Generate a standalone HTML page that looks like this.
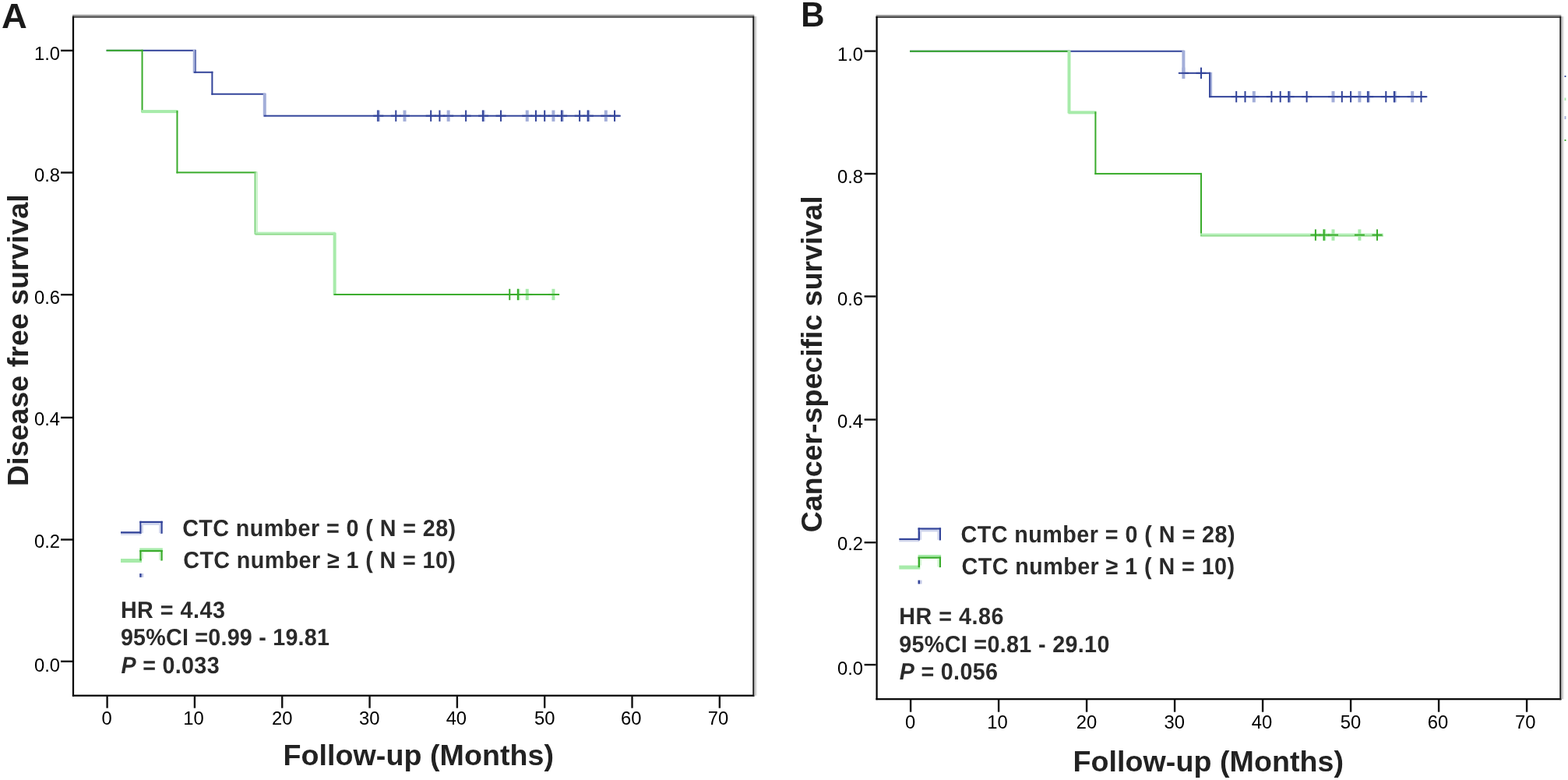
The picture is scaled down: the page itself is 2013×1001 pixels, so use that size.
<!DOCTYPE html>
<html><head><meta charset="utf-8"><title>Kaplan-Meier curves</title><style>
html,body{margin:0;padding:0;background:#fff;}
body{width:2013px;height:1001px;overflow:hidden;}
svg{display:block;}
text{font-family:'Liberation Sans', Arial, Helvetica, sans-serif;}
.tl{font-size:23.8px;fill:#000;}
.lg{font-size:28.7px;font-weight:bold;fill:#2a2a2a;text-rendering:geometricPrecision;}
.ax{font-size:37.6px;font-weight:bold;fill:#222;}
.pl{font-size:44.5px;font-weight:bold;fill:#1a1a1a;}
</style></head>
<body><svg width="2013" height="1001" viewBox="0 0 2013 1001">
<rect width="2013" height="1001" fill="#fff"/>
<rect x="93.00" y="18.80" width="875.30" height="2.00" fill="#9a9a9a"/>
<rect x="93.00" y="20.80" width="875.30" height="2.00" fill="#4a4a4a"/>
<rect x="92.90" y="20.80" width="2.20" height="872.90" fill="#000"/>
<rect x="92.90" y="891.60" width="875.50" height="2.20" fill="#000"/>
<rect x="966.30" y="20.80" width="2.00" height="872.90" fill="#1c1c1c"/>
<rect x="968.30" y="21.00" width="1.50" height="871.70" fill="#a9a9a9"/>
<rect x="969.80" y="21.00" width="1.80" height="871.70" fill="#dddddd"/>
<rect x="78.00" y="63.70" width="15.00" height="2.40" fill="#111"/>
<text x="77.00" y="76.90" class="tl" text-anchor="end">1.0</text>
<rect x="78.00" y="220.30" width="15.00" height="2.40" fill="#111"/>
<text x="77.00" y="232.50" class="tl" text-anchor="end">0.8</text>
<rect x="78.00" y="377.00" width="15.00" height="2.40" fill="#111"/>
<text x="77.00" y="389.60" class="tl" text-anchor="end">0.6</text>
<rect x="78.00" y="534.70" width="15.00" height="2.40" fill="#111"/>
<text x="77.00" y="546.20" class="tl" text-anchor="end">0.4</text>
<rect x="78.00" y="691.30" width="15.00" height="2.40" fill="#111"/>
<text x="77.00" y="702.50" class="tl" text-anchor="end">0.2</text>
<rect x="78.00" y="847.60" width="15.00" height="2.40" fill="#111"/>
<text x="77.00" y="861.50" class="tl" text-anchor="end">0.0</text>
<rect x="136.40" y="893.20" width="2.40" height="15.50" fill="#111"/>
<text x="137.10" y="930.40" class="tl" text-anchor="middle">0</text>
<rect x="248.72" y="893.20" width="2.40" height="15.50" fill="#111"/>
<text x="248.42" y="930.40" class="tl" text-anchor="middle">10</text>
<rect x="361.04" y="893.20" width="2.40" height="15.50" fill="#111"/>
<text x="362.24" y="930.40" class="tl" text-anchor="middle">20</text>
<rect x="473.36" y="893.20" width="2.40" height="15.50" fill="#111"/>
<text x="474.16" y="930.40" class="tl" text-anchor="middle">30</text>
<rect x="585.68" y="893.20" width="2.40" height="15.50" fill="#111"/>
<text x="585.88" y="930.40" class="tl" text-anchor="middle">40</text>
<rect x="698.00" y="893.20" width="2.40" height="15.50" fill="#111"/>
<text x="699.20" y="930.40" class="tl" text-anchor="middle">50</text>
<rect x="810.32" y="893.20" width="2.40" height="15.50" fill="#111"/>
<text x="810.32" y="930.40" class="tl" text-anchor="middle">60</text>
<rect x="922.64" y="893.20" width="2.40" height="15.50" fill="#111"/>
<text x="922.04" y="930.40" class="tl" text-anchor="middle">70</text>
<rect x="136.60" y="63.80" width="114.32" height="2.00" fill="#33449a"/>
<rect x="247.72" y="63.80" width="3.20" height="29.96" fill="#a3aed9"/>
<rect x="250.52" y="63.80" width="1.20" height="29.96" fill="#33449a"/>
<rect x="248.92" y="91.76" width="24.46" height="2.00" fill="#33449a"/>
<rect x="271.38" y="91.76" width="2.00" height="29.96" fill="#33449a"/>
<rect x="271.38" y="119.72" width="69.39" height="2.00" fill="#33449a"/>
<rect x="337.78" y="119.72" width="4.00" height="29.96" fill="#a3aed9"/>
<rect x="338.78" y="147.68" width="458.02" height="2.00" fill="#33449a"/>
<rect x="136.60" y="63.80" width="46.93" height="2.00" fill="#3aac2c"/>
<rect x="181.53" y="63.80" width="2.00" height="80.29" fill="#3aac2c"/>
<rect x="181.53" y="141.09" width="46.93" height="4.00" fill="#a7ebaa"/>
<rect x="226.46" y="142.09" width="2.00" height="80.29" fill="#3aac2c"/>
<rect x="226.46" y="220.38" width="103.09" height="2.00" fill="#3aac2c"/>
<rect x="326.54" y="220.38" width="2.00" height="80.29" fill="#7ad27a"/>
<rect x="328.54" y="220.38" width="2.50" height="80.29" fill="#cdf3cd"/>
<rect x="327.54" y="297.67" width="103.09" height="2.00" fill="#b3f0b8"/>
<rect x="327.54" y="299.67" width="103.09" height="2.00" fill="#8fdb8c"/>
<rect x="427.63" y="298.67" width="4.00" height="80.29" fill="#a7ebaa"/>
<rect x="428.63" y="376.96" width="289.54" height="2.00" fill="#3aac2c"/>
<rect x="483.79" y="141.48" width="4.00" height="14.40" fill="#a3aed9"/>
<rect x="484.29" y="141.48" width="2.00" height="14.40" fill="#33449a"/>
<rect x="479.29" y="147.68" width="13.00" height="2.00" fill="#33449a"/>
<rect x="507.26" y="141.48" width="2.00" height="14.40" fill="#33449a"/>
<rect x="501.76" y="147.68" width="13.00" height="2.00" fill="#33449a"/>
<rect x="517.49" y="141.48" width="4.00" height="14.40" fill="#a3aed9"/>
<rect x="512.99" y="147.68" width="13.00" height="2.00" fill="#33449a"/>
<rect x="552.18" y="141.48" width="2.00" height="14.40" fill="#33449a"/>
<rect x="546.68" y="147.68" width="13.00" height="2.00" fill="#33449a"/>
<rect x="563.42" y="141.48" width="2.00" height="14.40" fill="#33449a"/>
<rect x="557.92" y="147.68" width="13.00" height="2.00" fill="#33449a"/>
<rect x="573.65" y="141.48" width="4.00" height="14.40" fill="#a3aed9"/>
<rect x="569.15" y="147.68" width="13.00" height="2.00" fill="#33449a"/>
<rect x="597.11" y="141.48" width="2.00" height="14.40" fill="#33449a"/>
<rect x="591.61" y="147.68" width="13.00" height="2.00" fill="#33449a"/>
<rect x="618.58" y="141.48" width="4.00" height="14.40" fill="#a3aed9"/>
<rect x="619.08" y="141.48" width="2.00" height="14.40" fill="#33449a"/>
<rect x="614.08" y="147.68" width="13.00" height="2.00" fill="#33449a"/>
<rect x="642.04" y="141.48" width="2.00" height="14.40" fill="#33449a"/>
<rect x="636.54" y="147.68" width="13.00" height="2.00" fill="#33449a"/>
<rect x="674.74" y="141.48" width="4.00" height="14.40" fill="#a3aed9"/>
<rect x="670.24" y="147.68" width="13.00" height="2.00" fill="#33449a"/>
<rect x="686.97" y="141.48" width="2.00" height="14.40" fill="#33449a"/>
<rect x="681.47" y="147.68" width="13.00" height="2.00" fill="#33449a"/>
<rect x="698.20" y="141.48" width="2.00" height="14.40" fill="#33449a"/>
<rect x="692.70" y="147.68" width="13.00" height="2.00" fill="#33449a"/>
<rect x="708.43" y="141.48" width="4.00" height="14.40" fill="#a3aed9"/>
<rect x="703.93" y="147.68" width="13.00" height="2.00" fill="#33449a"/>
<rect x="719.66" y="141.48" width="4.00" height="14.40" fill="#a3aed9"/>
<rect x="720.16" y="141.48" width="2.00" height="14.40" fill="#33449a"/>
<rect x="715.16" y="147.68" width="13.00" height="2.00" fill="#33449a"/>
<rect x="743.13" y="141.48" width="2.00" height="14.40" fill="#33449a"/>
<rect x="737.63" y="147.68" width="13.00" height="2.00" fill="#33449a"/>
<rect x="753.36" y="141.48" width="4.00" height="14.40" fill="#a3aed9"/>
<rect x="753.86" y="141.48" width="2.00" height="14.40" fill="#33449a"/>
<rect x="748.86" y="147.68" width="13.00" height="2.00" fill="#33449a"/>
<rect x="775.82" y="141.48" width="4.00" height="14.40" fill="#a3aed9"/>
<rect x="771.32" y="147.68" width="13.00" height="2.00" fill="#33449a"/>
<rect x="788.06" y="141.48" width="2.00" height="14.40" fill="#33449a"/>
<rect x="782.56" y="147.68" width="13.00" height="2.00" fill="#33449a"/>
<rect x="653.27" y="370.76" width="2.00" height="14.40" fill="#3aac2c"/>
<rect x="647.77" y="376.96" width="13.00" height="2.00" fill="#3aac2c"/>
<rect x="663.50" y="370.76" width="4.00" height="14.40" fill="#a7ebaa"/>
<rect x="664.00" y="370.76" width="2.00" height="14.40" fill="#3aac2c"/>
<rect x="659.00" y="376.96" width="13.00" height="2.00" fill="#3aac2c"/>
<rect x="674.74" y="370.76" width="4.00" height="14.40" fill="#a7ebaa"/>
<rect x="670.24" y="376.96" width="13.00" height="2.00" fill="#3aac2c"/>
<rect x="708.43" y="370.76" width="4.00" height="14.40" fill="#a7ebaa"/>
<rect x="703.93" y="376.96" width="13.00" height="2.00" fill="#3aac2c"/>
<rect x="155.00" y="682.20" width="26.00" height="2.40" fill="#33449a"/>
<rect x="155.00" y="685.50" width="26.00" height="1.20" fill="#c9cfe9"/>
<rect x="179.30" y="668.80" width="2.40" height="16.00" fill="#33449a"/>
<rect x="179.30" y="668.80" width="29.50" height="2.40" fill="#33449a"/>
<rect x="181.50" y="671.20" width="25.00" height="2.60" fill="#cdd3ec"/>
<rect x="206.30" y="668.80" width="2.40" height="16.00" fill="#33449a"/>
<rect x="181.70" y="671.20" width="2.20" height="13.00" fill="#d3d8ee"/>
<rect x="204.10" y="671.20" width="2.20" height="13.00" fill="#d3d8ee"/>
<rect x="155.00" y="717.00" width="27.00" height="5.00" fill="#a7ebaa"/>
<rect x="179.30" y="706.00" width="2.40" height="13.50" fill="#3aac2c"/>
<rect x="179.30" y="703.40" width="29.50" height="2.80" fill="#a7ebaa"/>
<rect x="179.30" y="706.00" width="29.50" height="2.20" fill="#3aac2c"/>
<rect x="206.30" y="706.00" width="2.40" height="13.50" fill="#3aac2c"/>
<rect x="181.70" y="708.20" width="2.20" height="8.80" fill="#d5f5d5"/>
<rect x="204.10" y="708.20" width="2.20" height="10.50" fill="#d5f5d5"/>
<rect x="179.20" y="736.00" width="2.60" height="4.80" fill="#33449a"/>
<rect x="181.80" y="736.00" width="2.40" height="4.80" fill="#c2c8e6"/>
<text transform="translate(234.20,687.50) scale(1,1.055)" class="lg" textLength="350.9" lengthAdjust="spacing">CTC number = 0 ( N = 28)</text>
<text transform="translate(235.30,728.80) scale(1,1.055)" class="lg" textLength="349.6" lengthAdjust="spacing">CTC number ≥ 1 ( N = 10)</text>
<text transform="translate(154.90,792.80) scale(1,1.055)" class="lg" textLength="134.1" lengthAdjust="spacing">HR = 4.43</text>
<text transform="translate(154.90,828.20) scale(1,1.055)" class="lg" textLength="268.05" lengthAdjust="spacing">95%CI =0.99 - 19.81</text>
<text transform="translate(155.50,863.60) scale(1,1.055)" class="lg" textLength="126.1" lengthAdjust="spacing"><tspan font-style="italic">P</tspan> = 0.033</text>
<text transform="translate(1.9,36.3) scale(1.02,1)" class="pl">A</text>
<text transform="translate(36.0,624) rotate(-90)" class="ax" textLength="374.6" lengthAdjust="spacing">Disease free survival</text>
<text x="363.5" y="981.9" class="ax" textLength="347.5" lengthAdjust="spacing">Follow-up (Months)</text>
<rect x="1124.60" y="19.00" width="879.70" height="2.00" fill="#9a9a9a"/>
<rect x="1124.60" y="21.00" width="879.70" height="2.00" fill="#4a4a4a"/>
<rect x="1124.50" y="21.00" width="2.20" height="877.20" fill="#000"/>
<rect x="1124.50" y="896.10" width="879.90" height="2.20" fill="#000"/>
<rect x="2002.30" y="21.00" width="2.00" height="877.20" fill="#1c1c1c"/>
<rect x="2004.30" y="21.20" width="1.50" height="876.00" fill="#a9a9a9"/>
<rect x="2005.80" y="21.20" width="1.80" height="876.00" fill="#dddddd"/>
<rect x="1109.60" y="64.40" width="15.00" height="2.40" fill="#111"/>
<text x="1108.00" y="77.70" class="tl" text-anchor="end">1.0</text>
<rect x="1109.60" y="221.80" width="15.00" height="2.40" fill="#111"/>
<text x="1108.00" y="234.50" class="tl" text-anchor="end">0.8</text>
<rect x="1109.60" y="379.20" width="15.00" height="2.40" fill="#111"/>
<text x="1108.00" y="391.50" class="tl" text-anchor="end">0.6</text>
<rect x="1109.60" y="537.30" width="15.00" height="2.40" fill="#111"/>
<text x="1108.00" y="549.40" class="tl" text-anchor="end">0.4</text>
<rect x="1109.60" y="695.00" width="15.00" height="2.40" fill="#111"/>
<text x="1108.00" y="706.30" class="tl" text-anchor="end">0.2</text>
<rect x="1109.60" y="851.90" width="15.00" height="2.40" fill="#111"/>
<text x="1108.00" y="865.80" class="tl" text-anchor="end">0.0</text>
<rect x="1167.90" y="897.70" width="2.40" height="16.00" fill="#111"/>
<text x="1168.60" y="935.40" class="tl" text-anchor="middle">0</text>
<rect x="1280.90" y="897.70" width="2.40" height="16.00" fill="#111"/>
<text x="1280.60" y="935.40" class="tl" text-anchor="middle">10</text>
<rect x="1393.90" y="897.70" width="2.40" height="16.00" fill="#111"/>
<text x="1395.10" y="935.40" class="tl" text-anchor="middle">20</text>
<rect x="1506.90" y="897.70" width="2.40" height="16.00" fill="#111"/>
<text x="1507.70" y="935.40" class="tl" text-anchor="middle">30</text>
<rect x="1619.90" y="897.70" width="2.40" height="16.00" fill="#111"/>
<text x="1620.10" y="935.40" class="tl" text-anchor="middle">40</text>
<rect x="1732.90" y="897.70" width="2.40" height="16.00" fill="#111"/>
<text x="1734.10" y="935.40" class="tl" text-anchor="middle">50</text>
<rect x="1845.90" y="897.70" width="2.40" height="16.00" fill="#111"/>
<text x="1845.90" y="935.40" class="tl" text-anchor="middle">60</text>
<rect x="1958.90" y="897.70" width="2.40" height="16.00" fill="#111"/>
<text x="1958.30" y="935.40" class="tl" text-anchor="middle">70</text>
<rect x="1168.10" y="64.75" width="352.30" height="2.00" fill="#33449a"/>
<rect x="1517.40" y="64.75" width="4.00" height="30.07" fill="#a3aed9"/>
<rect x="1518.40" y="92.82" width="35.90" height="2.00" fill="#33449a"/>
<rect x="1552.10" y="92.82" width="4.00" height="32.32" fill="#a3aed9"/>
<rect x="1552.10" y="92.82" width="1.80" height="32.32" fill="#33449a"/>
<rect x="1552.30" y="123.14" width="279.98" height="2.00" fill="#33449a"/>
<rect x="1168.10" y="64.75" width="205.40" height="2.00" fill="#3aac2c"/>
<rect x="1370.50" y="64.75" width="4.00" height="80.60" fill="#a7ebaa"/>
<rect x="1371.50" y="142.35" width="35.90" height="4.00" fill="#a7ebaa"/>
<rect x="1405.40" y="143.35" width="2.00" height="80.60" fill="#3aac2c"/>
<rect x="1405.40" y="221.95" width="137.60" height="2.00" fill="#3aac2c"/>
<rect x="1541.00" y="221.95" width="2.00" height="80.60" fill="#3aac2c"/>
<rect x="1541.00" y="299.55" width="234.78" height="2.00" fill="#b3f0b8"/>
<rect x="1541.00" y="301.55" width="234.78" height="2.00" fill="#8fdb8c"/>
<rect x="1517.40" y="86.62" width="4.00" height="14.40" fill="#a3aed9"/>
<rect x="1512.90" y="92.82" width="13.00" height="2.00" fill="#33449a"/>
<rect x="1541.00" y="86.62" width="2.00" height="14.40" fill="#33449a"/>
<rect x="1535.50" y="92.82" width="13.00" height="2.00" fill="#33449a"/>
<rect x="1586.20" y="116.94" width="2.00" height="14.40" fill="#33449a"/>
<rect x="1580.70" y="123.14" width="13.00" height="2.00" fill="#33449a"/>
<rect x="1597.50" y="116.94" width="2.00" height="14.40" fill="#33449a"/>
<rect x="1592.00" y="123.14" width="13.00" height="2.00" fill="#33449a"/>
<rect x="1607.80" y="116.94" width="4.00" height="14.40" fill="#a3aed9"/>
<rect x="1603.30" y="123.14" width="13.00" height="2.00" fill="#33449a"/>
<rect x="1631.40" y="116.94" width="2.00" height="14.40" fill="#33449a"/>
<rect x="1625.90" y="123.14" width="13.00" height="2.00" fill="#33449a"/>
<rect x="1642.70" y="116.94" width="2.00" height="14.40" fill="#33449a"/>
<rect x="1637.20" y="123.14" width="13.00" height="2.00" fill="#33449a"/>
<rect x="1653.00" y="116.94" width="4.00" height="14.40" fill="#a3aed9"/>
<rect x="1653.50" y="116.94" width="2.00" height="14.40" fill="#33449a"/>
<rect x="1648.50" y="123.14" width="13.00" height="2.00" fill="#33449a"/>
<rect x="1676.60" y="116.94" width="2.00" height="14.40" fill="#33449a"/>
<rect x="1671.10" y="123.14" width="13.00" height="2.00" fill="#33449a"/>
<rect x="1709.50" y="116.94" width="4.00" height="14.40" fill="#a3aed9"/>
<rect x="1705.00" y="123.14" width="13.00" height="2.00" fill="#33449a"/>
<rect x="1721.80" y="116.94" width="2.00" height="14.40" fill="#33449a"/>
<rect x="1716.30" y="123.14" width="13.00" height="2.00" fill="#33449a"/>
<rect x="1733.10" y="116.94" width="2.00" height="14.40" fill="#33449a"/>
<rect x="1727.60" y="123.14" width="13.00" height="2.00" fill="#33449a"/>
<rect x="1743.40" y="116.94" width="4.00" height="14.40" fill="#a3aed9"/>
<rect x="1738.90" y="123.14" width="13.00" height="2.00" fill="#33449a"/>
<rect x="1754.70" y="116.94" width="4.00" height="14.40" fill="#a3aed9"/>
<rect x="1755.20" y="116.94" width="2.00" height="14.40" fill="#33449a"/>
<rect x="1750.20" y="123.14" width="13.00" height="2.00" fill="#33449a"/>
<rect x="1778.30" y="116.94" width="2.00" height="14.40" fill="#33449a"/>
<rect x="1772.80" y="123.14" width="13.00" height="2.00" fill="#33449a"/>
<rect x="1788.60" y="116.94" width="4.00" height="14.40" fill="#a3aed9"/>
<rect x="1789.10" y="116.94" width="2.00" height="14.40" fill="#33449a"/>
<rect x="1784.10" y="123.14" width="13.00" height="2.00" fill="#33449a"/>
<rect x="1811.20" y="116.94" width="4.00" height="14.40" fill="#a3aed9"/>
<rect x="1806.70" y="123.14" width="13.00" height="2.00" fill="#33449a"/>
<rect x="1823.50" y="116.94" width="2.00" height="14.40" fill="#33449a"/>
<rect x="1818.00" y="123.14" width="13.00" height="2.00" fill="#33449a"/>
<rect x="1687.90" y="294.35" width="2.00" height="14.40" fill="#3aac2c"/>
<rect x="1682.40" y="300.55" width="13.00" height="2.00" fill="#3aac2c"/>
<rect x="1698.20" y="294.35" width="4.00" height="14.40" fill="#a7ebaa"/>
<rect x="1698.70" y="294.35" width="2.00" height="14.40" fill="#3aac2c"/>
<rect x="1693.70" y="300.55" width="13.00" height="2.00" fill="#3aac2c"/>
<rect x="1709.50" y="294.35" width="4.00" height="14.40" fill="#a7ebaa"/>
<rect x="1705.00" y="300.55" width="13.00" height="2.00" fill="#3aac2c"/>
<rect x="1743.40" y="294.35" width="4.00" height="14.40" fill="#a7ebaa"/>
<rect x="1738.90" y="300.55" width="13.00" height="2.00" fill="#3aac2c"/>
<rect x="1767.00" y="294.35" width="2.00" height="14.40" fill="#3aac2c"/>
<rect x="1761.50" y="300.55" width="13.00" height="2.00" fill="#3aac2c"/>
<rect x="1154.30" y="690.80" width="26.00" height="2.40" fill="#33449a"/>
<rect x="1154.30" y="694.10" width="26.00" height="1.20" fill="#c9cfe9"/>
<rect x="1178.60" y="677.40" width="2.40" height="16.00" fill="#33449a"/>
<rect x="1178.60" y="677.40" width="29.50" height="2.40" fill="#33449a"/>
<rect x="1180.80" y="679.80" width="25.00" height="2.60" fill="#cdd3ec"/>
<rect x="1205.60" y="677.40" width="2.40" height="16.00" fill="#33449a"/>
<rect x="1181.00" y="679.80" width="2.20" height="13.00" fill="#d3d8ee"/>
<rect x="1203.40" y="679.80" width="2.20" height="13.00" fill="#d3d8ee"/>
<rect x="1154.30" y="725.60" width="27.00" height="5.00" fill="#a7ebaa"/>
<rect x="1178.60" y="714.60" width="2.40" height="13.50" fill="#3aac2c"/>
<rect x="1178.60" y="712.00" width="29.50" height="2.80" fill="#a7ebaa"/>
<rect x="1178.60" y="714.60" width="29.50" height="2.20" fill="#3aac2c"/>
<rect x="1205.60" y="714.60" width="2.40" height="13.50" fill="#3aac2c"/>
<rect x="1181.00" y="716.80" width="2.20" height="8.80" fill="#d5f5d5"/>
<rect x="1203.40" y="716.80" width="2.20" height="10.50" fill="#d5f5d5"/>
<rect x="1178.50" y="744.60" width="2.60" height="4.80" fill="#33449a"/>
<rect x="1181.10" y="744.60" width="2.40" height="4.80" fill="#c2c8e6"/>
<text transform="translate(1233.50,696.10) scale(1,1.055)" class="lg" textLength="352.0" lengthAdjust="spacing">CTC number = 0 ( N = 28)</text>
<text transform="translate(1234.60,737.40) scale(1,1.055)" class="lg" textLength="350.5" lengthAdjust="spacing">CTC number ≥ 1 ( N = 10)</text>
<text transform="translate(1154.20,801.40) scale(1,1.055)" class="lg" textLength="134.2" lengthAdjust="spacing">HR = 4.86</text>
<text transform="translate(1154.20,836.80) scale(1,1.055)" class="lg" textLength="270.2" lengthAdjust="spacing">95%CI =0.81 - 29.10</text>
<text transform="translate(1154.80,872.20) scale(1,1.055)" class="lg" textLength="126.1" lengthAdjust="spacing"><tspan font-style="italic">P</tspan> = 0.056</text>
<text transform="translate(1028.3,33.5) scale(0.94,1)" class="pl">B</text>
<text transform="translate(1054.8,683.2) rotate(-90)" class="ax" textLength="431.9" lengthAdjust="spacing">Cancer-specific survival</text>
<text x="1377.4" y="989.8" class="ax" textLength="347.7" lengthAdjust="spacing">Follow-up (Months)</text>
<rect x="2008.60" y="97.00" width="1.80" height="2.00" fill="#33449a"/>
<rect x="2008.60" y="125.50" width="1.80" height="3.50" fill="#a7ebaa"/>
<rect x="2008.60" y="149.00" width="1.80" height="4.00" fill="#a3aed9"/>
<rect x="2008.60" y="179.00" width="1.80" height="2.00" fill="#3aac2c"/>
</svg></body></html>
